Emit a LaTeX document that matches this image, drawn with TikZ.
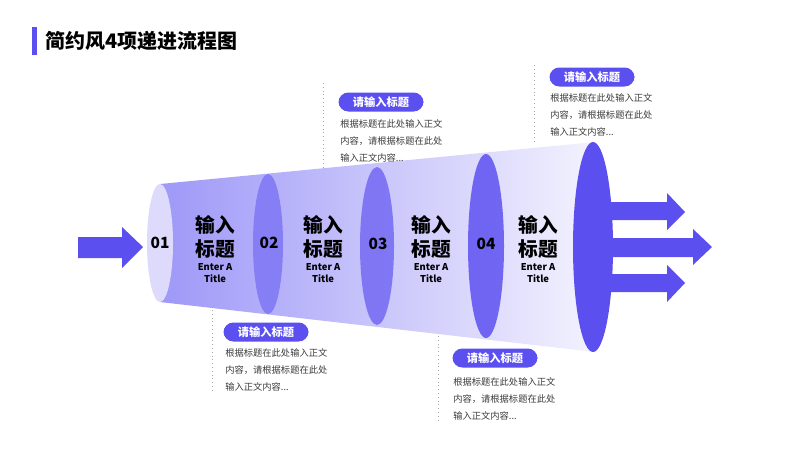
\documentclass[tikz,border=0pt]{standalone}
\usepackage{fontspec}
\setmainfont{Noto Sans CJK SC}
\definecolor{mainblue}{HTML}{5B4FF0}
\definecolor{bodygray}{HTML}{3A3A3A}
\definecolor{dotgray}{HTML}{A8A8A8}
\definecolor{lightend}{HTML}{DDDAFC}
\definecolor{ell2}{HTML}{7E76F5}
\definecolor{ell3}{HTML}{7469F3}
\definecolor{ell4}{HTML}{6559F1}
\tikzset{
  pill/.style={fill=mainblue, rounded corners=7pt, text=white, font=\bfseries\fontsize{8}{9}\selectfont, minimum width=85*0.025cm, minimum height=19*0.025cm, inner sep=0pt},
  body/.style={text=bodygray, font=\fontsize{6.6}{12.2}\selectfont, align=left, anchor=north west, inner sep=0pt},
  segtitle/.style={font=\bfseries\fontsize{14}{17.5}\selectfont, align=center, inner sep=0pt},
  segsub/.style={font=\bfseries\fontsize{6.7}{8}\selectfont, align=center, inner sep=0pt},
  num/.style={font=\bfseries\fontsize{11}{12}\selectfont, inner sep=0pt},
  guide/.style={draw=dotgray, dotted, line width=0.7pt},
  arrowfill/.style={fill=mainblue}
}
\begin{document}
\begin{tikzpicture}[x=0.025cm,y=-0.025cm]
\useasboundingbox (0,0) rectangle (800,450);
% title
\fill[mainblue] (32,27) rectangle (37,55);
\node[anchor=west, font=\bfseries\fontsize{14.2}{16}\selectfont, inner sep=0pt] (title) at (45,41) {简约风4项递进流程图};

% funnel body
\shade[left color=ell2!75, right color=lightend!35] (160,184) -- (595,142) -- (595,352) -- (160,302) -- cycle;
% left arrow
\fill[mainblue] (78,237) -- (122,237) -- (122,227) -- (143,247) -- (122,268) -- (122,258) -- (78,258) -- cycle;
% ellipses
\fill[lightend] (160,243) ellipse [x radius=13, y radius=59];
\fill[ell2, opacity=0.85] (268,244) ellipse [x radius=15, y radius=70];
\fill[ell3, opacity=0.85] (377,246) ellipse [x radius=17, y radius=79];
\fill[ell4, opacity=0.9] (486,246) ellipse [x radius=18, y radius=92];
% right arrows
\fill[mainblue] (600,202) -- (667,202) -- (667,193) -- (685,212) -- (667,230) -- (667,220) -- (600,220) -- cycle;
\fill[mainblue] (600,238) -- (693,238) -- (693,229) -- (712,247) -- (693,265) -- (693,257) -- (600,257) -- cycle;
\fill[mainblue] (600,274) -- (667,274) -- (667,265) -- (685,283) -- (667,302) -- (667,292) -- (600,292) -- cycle;
\fill[mainblue] (593,247) ellipse [x radius=20, y radius=105];

% numbers
\node[num] (n1) at (160,243) {01};
\node[num] (n2) at (269,243) {02};
\node[num] (n3) at (378,244) {03};
\node[num] (n4) at (486,244) {04};
% segment titles
\node[segtitle] (t1) at (215,237) {输入\\标题};
\node[segsub] (s1) at (215,273) {Enter A\\Title};
\node[segtitle] (t2) at (323,237) {输入\\标题};
\node[segsub] (s2) at (323,273) {Enter A\\Title};
\node[segtitle] (t3) at (431,237) {输入\\标题};
\node[segsub] (s3) at (431,273) {Enter A\\Title};
\node[segtitle] (t4) at (538,237) {输入\\标题};
\node[segsub] (s4) at (538,273) {Enter A\\Title};

% callout 1 (top, segment 2)
\coordinate (g1a) at (323,83);
\coordinate (g1b) at (323,170);
\draw[guide] (g1a) -- (g1b);
\node[pill] (p1) at (381,102) {请输入标题};
\node[body] (b1) at (340,119) {根据标题在此处输入正文\\内容，请根据标题在此处\\输入正文内容...};

% callout 2 (top right, segment 4)
\coordinate (g2a) at (534,65);
\coordinate (g2b) at (534,143);
\draw[guide] (g2a) -- (g2b);
\node[pill] (p2) at (592,77) {请输入标题};
\node[body] (b2) at (550,93) {根据标题在此处输入正文\\内容，请根据标题在此处\\输入正文内容...};

% callout 3 (bottom, segment 1)
\coordinate (g3a) at (212,310);
\coordinate (g3b) at (212,392);
\draw[guide] (g3a) -- (g3b);
\node[pill] (p3) at (266,332) {请输入标题};
\node[body] (b3) at (225,348) {根据标题在此处输入正文\\内容，请根据标题在此处\\输入正文内容...};

% callout 4 (bottom, segment 3)
\coordinate (g4a) at (438,336);
\coordinate (g4b) at (438,420);
\draw[guide] (g4a) -- (g4b);
\node[pill] (p4) at (495,358) {请输入标题};
\node[body] (b4) at (453,377) {根据标题在此处输入正文\\内容，请根据标题在此处\\输入正文内容...};
\end{tikzpicture}
\end{document}
